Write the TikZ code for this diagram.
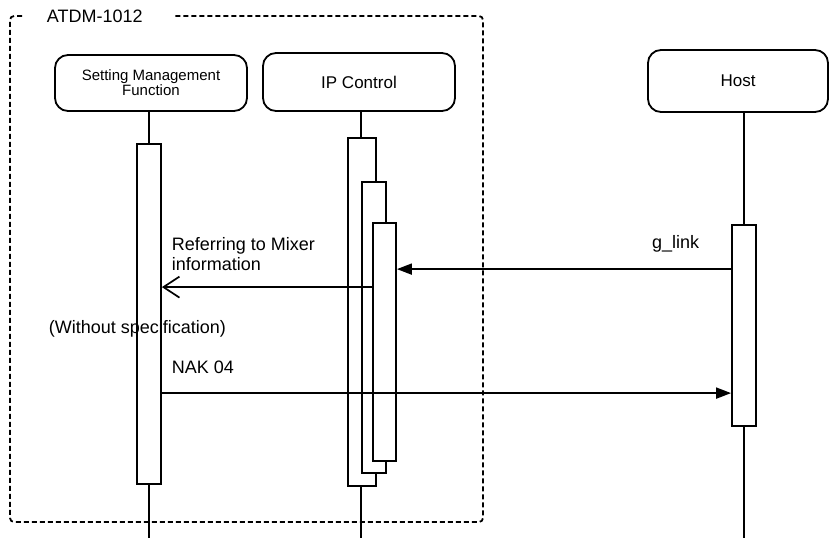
\documentclass[tikz,border=0pt]{standalone}
\usepackage{fontspec}
\setmainfont{Liberation Sans}
\usetikzlibrary{arrows.meta,calc}
\tikzset{
  actor/.style={rectangle,draw,rounded corners=13pt,align=center,inner sep=0,
    font=\fontsize{17}{19}\selectfont},
  activ/.style={rectangle,draw,fill=white,inner sep=0,minimum width=24pt},
  lbl/.style={inner sep=0,align=left,font=\fontsize{18}{20}\selectfont},
  solid head/.style={-{Triangle[length=15pt,width=11pt]}},
  open head/.style={-{Straight Barb[length=16pt,width=21pt,line width=1.7pt]}}
}
\begin{document}
\begin{tikzpicture}[x=1pt,y=-1pt,line width=1.8pt]
\useasboundingbox (0,0) rectangle (830,538);
% frame round the device
\draw[dash pattern=on 5pt off 3pt,rounded corners=4pt] (22,16) -- (10,16) -- (10,522) -- (483,522) -- (483,16) -- (173,16);
\draw (46,16) node[lbl,anchor=west] (dev) {ATDM-1012};
% heads
\draw (151,83) node[actor,minimum width=192pt,minimum height=56pt,font=\fontsize{15}{12.5}\selectfont] (smf) {Setting Management\\Function};
\draw (359,82) node[actor,minimum width=192pt,minimum height=58pt] (ipc) {IP Control};
\draw (738,81) node[actor,minimum width=180pt,minimum height=62pt] (host) {Host};
% lifeline ends
\coordinate (smfend) at (149,538);
\coordinate (ipcend) at (361,538);
\coordinate (hostend) at (744,538);
% activations
\draw (149,314) node[activ,minimum height=340pt] (sact) {};
\draw (362,312) node[activ,minimum width=28pt,minimum height=348pt] (ia) {};
\draw (374,327.5) node[activ,minimum height=291pt] (ib) {};
\draw (384.5,342) node[activ,minimum width=23pt,minimum height=238pt] (ic) {};
\draw (744,325.5) node[activ,minimum height=201pt] (hact) {};
\draw (smf.south -| sact.north) -- (sact.north);
\draw (sact.south) -- (smfend);
\draw (ipc.south -| ipcend) -- (ipcend |- ia.north);
\draw (ipcend |- ia.south) -- (ipcend);
\draw (host.south -| hact.north) -- (hact.north);
\draw (hact.south) -- (hostend);
% messages
\draw[solid head] ($(hact.north west)+(0,45)$) coordinate (g1) -- (g1 -| ic.east);
\draw ($(g1)+(-80,-16)$) node[lbl,anchor=south west] (glink) {g\_link};
\draw[open head] ($(ic.north west)+(0,65)$) coordinate (r1) -- (r1 -| sact.east);
\draw ($(r1 -| sact.east)+(9,-16)$) node[lbl,anchor=south west] (refer) {Referring to Mixer\\information};
\draw (48,329) node[lbl,anchor=west] (nospec) {(Without specification)};
\draw[solid head] ($(sact.north east)+(0,250)$) coordinate (n1) -- (n1 -| hact.west);
\draw ($(n1)+(9,-19)$) node[lbl,anchor=south west] (nak) {NAK 04};
\end{tikzpicture}
\end{document}
